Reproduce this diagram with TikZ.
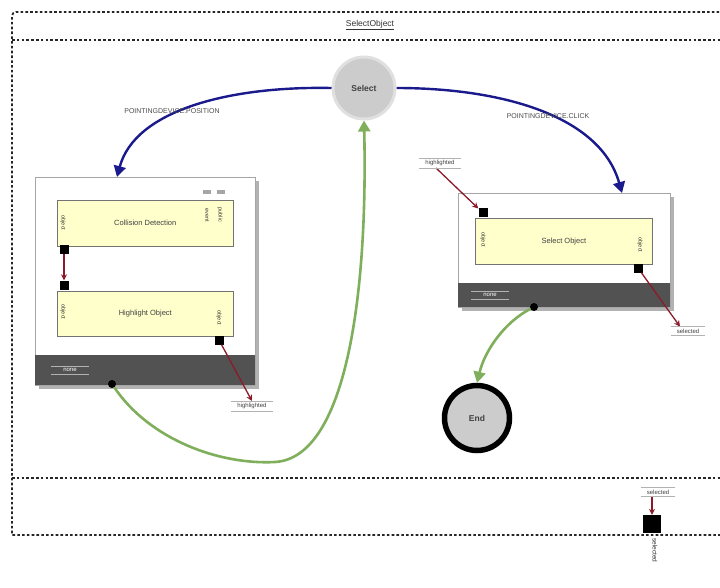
\documentclass[tikz,border=0pt]{standalone}
\usepackage{fontspec}
\setmainfont{Liberation Sans}
\usetikzlibrary{arrows.meta}
\definecolor{pale}{HTML}{FFFFCC}
\definecolor{navyflow}{HTML}{1A1A8C}
\definecolor{greenflow}{HTML}{7FAF5A}
\definecolor{datared}{HTML}{8B1A2B}
\begin{document}
\begin{tikzpicture}[x=1pt,y=-1pt,
  frameline/.style={line width=1.8pt, dash pattern=on 2.6pt off 2.2pt, black!85},
  shadowbox/.style={fill=black!30, draw=none},
  statebox/.style={draw=black!35, fill=white, line width=0.6pt, inner sep=0},
  band/.style={fill=black!68, draw=none, inner sep=0},
  activity/.style={draw=black!55, fill=pale, line width=0.6pt, inner sep=0, font=\fontsize{7.5}{8}\selectfont, text=black!75},
  port/.style={fill=black, draw=none, minimum size=9pt, inner sep=0},
  portlbl/.style={rotate=-90, font=\fontsize{5.5}{6}\selectfont, text=black!80, inner sep=0},
  datalbl/.style={font=\fontsize{6}{7}\selectfont, text=black!75, inner xsep=6pt, inner ysep=2pt},
  nonelbl/.style={font=\fontsize{6}{7}\selectfont, text=white, inner xsep=12pt, inner ysep=2pt},
  lblrule/.style={draw=black!30, line width=0.5pt},
  evtlbl/.style={font=\fontsize{7}{8}\selectfont, text=black!70},
  flow/.style={draw=navyflow, line width=2.4pt, -{Triangle[length=11pt,width=12pt]}},
  trans/.style={draw=greenflow, line width=2.6pt, -{Triangle[length=11pt,width=12pt]}},
  data/.style={draw=datared, line width=1.3pt, -{Stealth[length=6pt,width=6pt]}},
  dot/.style={circle, fill=black, minimum size=8pt, inner sep=0}
]
\useasboundingbox[fill=white] (0,0) rectangle (720,588);

% outer frame of the composite state
\draw[frameline] (724,12) -- (16,12) to[out=180,in=90] (12,16) -- (12,535) -- (724,535);
\draw[frameline] (12,40) -- (724,40);
\draw[frameline] (12,478) -- (724,478);
\node[font=\fontsize{8.5}{9}\selectfont, text=black!80] (title) at (370,25) {\underline{SelectObject}};

% initial and final states
\node[circle, minimum size=62pt, fill=black!20, draw=black!12, line width=3pt,
      font=\bfseries\fontsize{8.5}{9}\selectfont, text=black!75] (sel) at (364,88) {Select};
\node[circle, minimum size=65pt, fill=black!20, draw=black, line width=5.5pt,
      font=\bfseries\fontsize{8.5}{9}\selectfont, text=black!75] (endst) at (477,418) {End};

% left state: collision detection + highlight
\fill[shadowbox] (39,181) rectangle (259,389);
\node[statebox, minimum width=220pt, minimum height=208pt, anchor=north west] (lstate) at (35,177) {};
\node[band, minimum width=220pt, minimum height=30pt, anchor=south west] (lband) at (lstate.south west) {};
\node[nonelbl] (none1) at (70,370) {none};
\node[dot] (ldot) at (112,384) {};

\node[activity, minimum width=176pt, minimum height=46pt, anchor=north west] (cd) at (57,200) {Collision Detection};
\node[portlbl] (cdin) at (63,223) {object};
\node[portlbl] (cdev) at (207,215) {event};
\node[portlbl] (cdpub) at (220,215) {public};
\fill[black!35] (203,190) rectangle (211,194);
\fill[black!35] (217,190) rectangle (225,194);
\node[port] (cdport) at (64,249) {};

\node[activity, minimum width=176pt, minimum height=45pt, anchor=north west] (ho) at (57,291) {Highlight Object};
\node[portlbl] (hoinl) at (63,312) {object};
\node[portlbl] (hooutl) at (219,318) {object};
\node[port] (hoin) at (64,285) {};
\node[port] (hoout) at (219,340) {};
\draw[data] (cdport) -- (hoin);

\node[datalbl] (hl1) at (252,406) {highlighted};
\draw[data] (hoout) -- (hl1.north);

% right state: select object
\fill[shadowbox] (462,197) rectangle (674,311);
\node[statebox, minimum width=212pt, minimum height=114pt, anchor=north west] (rstate) at (458,193) {};
\node[band, minimum width=212pt, minimum height=24pt, anchor=south west] (rband) at (rstate.south west) {};
\node[nonelbl] (none2) at (490,295) {none};
\node[dot] (rdot) at (534,307) {};

\node[activity, minimum width=177pt, minimum height=46pt, anchor=north west] (so) at (475,218) {Select Object};
\node[portlbl] (soinl) at (483,240) {object};
\node[portlbl] (sooutl) at (640,245) {object};
\node[port] (soin) at (483,213) {};
\node[port] (soout) at (638,268) {};

\node[datalbl] (hl2) at (440,163) {highlighted};
\draw[data] ([xshift=-4pt]hl2.south) -- (soin);
\node[datalbl] (sel1) at (688,331) {selected};
\draw[data] (soout) -- ([xshift=-8pt]sel1.north);

% output pin of the composite state
\node[port, minimum size=18pt] (bport) at (652,524) {};
\node[datalbl] (sel2) at (658,492) {selected};
\draw[data] (sel2.south -| bport) -- (bport.north);
\node[portlbl, font=\fontsize{6.5}{7}\selectfont, anchor=west] (bportl) at (655,538) {selected};

% rules above and below the small labels
\foreach \n in {hl1,hl2,sel1,sel2,none1,none2} {
  \draw[lblrule] (\n.north west) -- (\n.north east);
  \draw[lblrule] (\n.south west) -- (\n.south east);
}

% event transitions
\coordinate (lin) at (117,177);
\coordinate (rin) at (622,193);
\draw[flow] (sel.west) .. controls (230,86) and (135,110) .. (lin);
\draw[flow] (sel.east) .. controls (500,88) and (600,115) .. (rin);
\node[evtlbl] (evpos) at (172,111) {POINTINGDEVICE.POSITION};
\node[evtlbl] (evclk) at (548,116) {POINTINGDEVICE.CLICK};

% completion transitions
\draw[trans] (rdot) .. controls (505,322) and (485,350) .. (endst.north);
\draw[trans] (ldot) .. controls (150,440) and (220,465) .. (275,462)
                    .. controls (345,458) and (368,300) .. (sel.south);
\end{tikzpicture}
\end{document}
